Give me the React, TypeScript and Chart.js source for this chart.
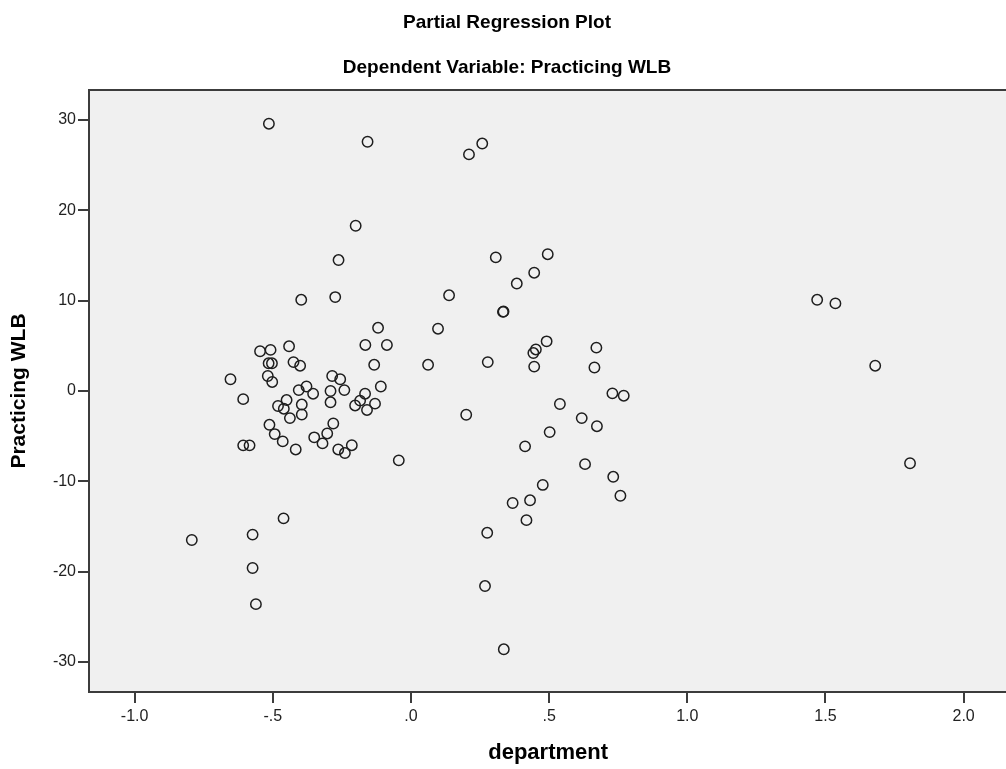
import React, { useEffect, useRef } from "react";
import { Chart, registerables } from "chart.js";

Chart.register(...registerables);

const titleLines = ["Partial Regression Plot", "Dependent Variable: Practicing WLB"];
const xAxisTitle = "department";
const yAxisTitle = "Practicing WLB";

const xTickValues = [-1.0, -0.5, 0, 0.5, 1.0, 1.5, 2.0];
const yTickValues = [-30, -20, -10, 0, 10, 20, 30];

const departmentX = [
  -0.514, -0.157, 0.21, 0.258, -0.2, -0.262, 0.307, 0.495, 0.446, 0.383,
  0.138, -0.397, -0.274, 1.47, 1.536, 0.333, 0.335, -0.119, 0.098, 0.491,
  0.671, 0.452, 0.443, -0.546, -0.508, -0.441, -0.165, -0.087, -0.515, -0.503,
  -0.425, -0.401, -0.133, 0.062, 0.278, 0.446, 0.664, 1.68, -0.653, -0.518,
  -0.502, -0.285, -0.256, -0.109, -0.378, -0.406, -0.354, -0.291, -0.241, -0.166,
  0.729, 0.77, -0.607, -0.45, -0.291, -0.184, -0.202, -0.13, -0.481, -0.46,
  -0.395, -0.395, -0.159, 0.539, 0.2, -0.438, -0.281, -0.512, 0.618, 0.673,
  0.502, -0.493, -0.303, -0.464, -0.35, -0.32, -0.214, -0.263, -0.239, -0.417,
  -0.607, -0.584, 0.413, -0.044, 0.63, 1.806, 0.732, 0.477, 0.758, 0.431,
  0.368, 0.418, -0.461, 0.276, -0.573, -0.793, -0.573, -0.561, 0.268, 0.336,
];

const practicingWLB = [
  29.6, 27.6, 26.2, 27.4, 18.3, 14.5, 14.8, 15.15, 13.1, 11.9,
  10.6, 10.1, 10.4, 10.1, 9.7, 8.76, 8.8, 7.0, 6.9, 5.5,
  4.8, 4.6, 4.2, 4.4, 4.55, 4.95, 5.1, 5.1, 3.07, 3.07,
  3.2, 2.8, 2.9, 2.9, 3.2, 2.7, 2.6, 2.8, 1.3, 1.66,
  1.0, 1.66, 1.3, 0.5, 0.5, 0.1, -0.3, 0.0, 0.1, -0.3,
  -0.26, -0.52, -0.9, -1.0, -1.25, -1.07, -1.6, -1.4, -1.66, -1.96,
  -1.5, -2.6, -2.1, -1.44, -2.63, -3.0, -3.6, -3.74, -3.0, -3.9,
  -4.55, -4.77, -4.7, -5.58, -5.13, -5.8, -6.0, -6.47, -6.87, -6.47,
  -6.02, -6.02, -6.13, -7.68, -8.1, -8.0, -9.5, -10.4, -11.6, -12.1,
  -12.4, -14.3, -14.1, -15.7, -15.9, -16.5, -19.6, -23.6, -21.6, -28.6,
];

const FONT = "'Liberation Sans', Arial, Helvetica, sans-serif";

const formatX = (v: number) => v.toFixed(1).replace(/^(-?)0\./, "$1.");

const plotFrame = {
  id: "plotFrame",
  beforeDraw(chart: any) {
    const { ctx, chartArea } = chart;
    ctx.save();
    ctx.fillStyle = "#f0f0f0";
    ctx.fillRect(chartArea.left, chartArea.top, chartArea.right - chartArea.left, chartArea.bottom - chartArea.top);
    ctx.restore();
  },
  afterDraw(chart: any) {
    const { ctx, chartArea } = chart;
    ctx.save();
    ctx.strokeStyle = "#3c3c3c";
    ctx.lineWidth = 2;
    ctx.beginPath();
    ctx.moveTo(chartArea.left, chartArea.top);
    ctx.lineTo(chartArea.right, chartArea.top);
    ctx.stroke();
    ctx.restore();
  },
};

export default function App() {
  const canvasRef = useRef<HTMLCanvasElement | null>(null);

  useEffect(() => {
    if (!canvasRef.current) return;
    const points = departmentX.map((x, i) => ({ x, y: practicingWLB[i] }));
    const chart = new Chart(canvasRef.current, {
      type: "scatter",
      data: {
        datasets: [
          {
            data: points,
            pointStyle: "circle",
            pointRadius: 5.2,
            pointBorderWidth: 1.5,
            pointBorderColor: "#1e1e1e",
            pointBackgroundColor: "rgba(0,0,0,0)",
          },
        ],
      },
      plugins: [plotFrame],
      options: {
        animation: false,
        responsive: false,
        devicePixelRatio: 1,
        layout: { padding: 0 },
        plugins: {
          legend: { display: false },
          tooltip: { enabled: false },
          title: {
            display: true,
            text: titleLines,
            color: "#000",
            font: { family: FONT, size: 19, weight: "bold", lineHeight: 45 / 19 },
            padding: { top: 0, bottom: 0 },
          },
        },
        scales: {
          x: {
            type: "linear",
            min: -1.165,
            max: 2.158,
            afterFit: (scale: any) => {
              scale.height = 77;
            },
            afterBuildTicks: (scale: any) => {
              scale.ticks = xTickValues.map((v) => ({ value: v }));
            },
            ticks: {
              callback: (v: any) => formatX(Number(v)),
              color: "#222",
              font: { family: FONT, size: 16 },
              padding: 4,
              maxRotation: 0,
              autoSkip: false,
            },
            grid: {
              display: true,
              drawOnChartArea: false,
              drawTicks: true,
              tickLength: 11,
              color: "#3c3c3c",
              lineWidth: 2,
            },
            border: { display: true, color: "#3c3c3c", width: 2 },
            title: {
              display: true,
              text: xAxisTitle,
              color: "#000",
              font: { family: FONT, size: 22, weight: "bold" },
              padding: { top: 0, bottom: 3 },
            },
          },
          y: {
            type: "linear",
            min: -33.33,
            max: 33.33,
            afterFit: (scale: any) => {
              scale.width = 89;
            },
            afterBuildTicks: (scale: any) => {
              scale.ticks = yTickValues.map((v) => ({ value: v }));
            },
            ticks: {
              callback: (v: any) => String(v),
              color: "#222",
              font: { family: FONT, size: 16 },
              padding: 2,
              autoSkip: false,
            },
            grid: {
              display: true,
              drawOnChartArea: false,
              drawTicks: true,
              tickLength: 11,
              color: "#3c3c3c",
              lineWidth: 2,
            },
            border: { display: true, color: "#3c3c3c", width: 2 },
            title: {
              display: true,
              text: yAxisTitle,
              color: "#000",
              font: { family: FONT, size: 21, weight: "bold", lineHeight: 1.2 },
              padding: { top: 7, bottom: 0 },
            },
          },
        },
      },
    });
    return () => chart.destroy();
  }, []);

  return (
    <div
      style={{
        position: "absolute",
        left: 0,
        top: 0,
        width: 1006,
        height: 769,
        overflow: "hidden",
        background: "#fff",
      }}
    >
      <canvas ref={canvasRef} width={1014} height={769} style={{ width: 1014, height: 769, display: "block" }} />
    </div>
  );
}
